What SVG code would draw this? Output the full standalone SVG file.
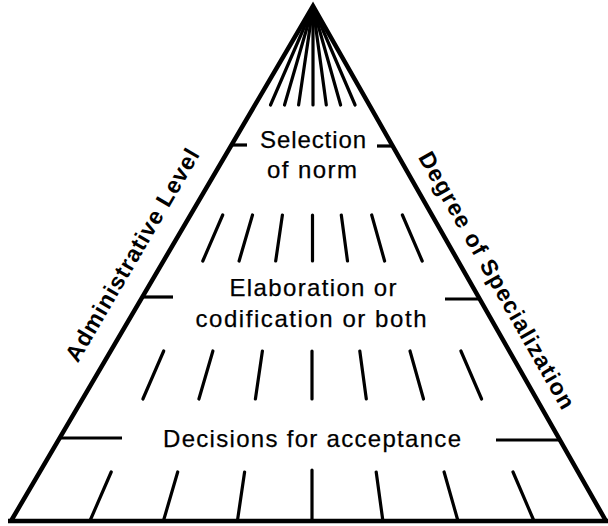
<svg xmlns="http://www.w3.org/2000/svg" width="608" height="526" viewBox="0 0 608 526">
<style>
.edge{stroke:#000;stroke-width:4.5;fill:none;stroke-linejoin:miter}
.tk{stroke:#000;stroke-width:3.2;stroke-linecap:round;fill:none}
.lv{stroke:#000;stroke-width:3.2;fill:none}
.t{font-family:"Liberation Sans",Arial,sans-serif;font-size:24px;fill:#000;stroke:#000;stroke-width:0.25;text-anchor:middle}
.lab{font-family:"Liberation Sans",Arial,sans-serif;font-size:23px;font-weight:bold;fill:#000;text-anchor:middle}
</style>
<rect width="608" height="526" fill="#fff"/>
<g id="pyramid">
<path class="edge" d="M11,521 L313,6 L606,521"/>
<line class="edge" x1="8" y1="521" x2="608" y2="521"/>
</g>
<g id="connectors">
<g id="band1">
<line class="tk" x1="313" y1="7" x2="270.5" y2="105"/>
<line class="tk" x1="313" y1="7" x2="284.5" y2="105"/>
<line class="tk" x1="313" y1="7" x2="298.6" y2="105"/>
<line class="tk" x1="313" y1="7" x2="313" y2="105"/>
<line class="tk" x1="313" y1="7" x2="326.3" y2="105"/>
<line class="tk" x1="313" y1="7" x2="340.6" y2="105"/>
<line class="tk" x1="313" y1="7" x2="355.1" y2="105"/>
</g>
<g id="band2">
<line class="tk" x1="222.7" y1="215" x2="202.8" y2="261"/>
<line class="tk" x1="252.5" y1="215" x2="239.1" y2="261"/>
<line class="tk" x1="282.4" y1="215" x2="275.7" y2="261"/>
<line class="tk" x1="312.5" y1="215" x2="312.5" y2="261"/>
<line class="tk" x1="341.3" y1="215" x2="347.5" y2="261"/>
<line class="tk" x1="371.7" y1="215" x2="384.6" y2="261"/>
<line class="tk" x1="402.4" y1="215" x2="422.2" y2="261"/>
</g>
<g id="band3">
<line class="tk" x1="163.7" y1="351" x2="142.9" y2="399"/>
<line class="tk" x1="212.9" y1="351" x2="198.9" y2="399"/>
<line class="tk" x1="262.4" y1="351" x2="255.4" y2="399"/>
<line class="tk" x1="312" y1="351" x2="312" y2="399"/>
<line class="tk" x1="359.8" y1="351" x2="366.3" y2="399"/>
<line class="tk" x1="410" y1="351" x2="423.5" y2="399"/>
<line class="tk" x1="460.9" y1="351" x2="481.6" y2="399"/>
</g>
<g id="band4">
<line class="tk" x1="111.2" y1="472" x2="89.9" y2="521"/>
<line class="tk" x1="177.7" y1="472" x2="163.4" y2="521"/>
<line class="tk" x1="244.6" y1="472" x2="237.4" y2="521"/>
<line class="tk" x1="312" y1="470" x2="312" y2="521"/>
<line class="tk" x1="376.2" y1="472" x2="382.9" y2="521"/>
<line class="tk" x1="444.1" y1="472" x2="458" y2="521"/>
<line class="tk" x1="513" y1="472" x2="534" y2="521"/>
</g>
<g id="levels">
<line class="lv" x1="232" y1="145" x2="247" y2="145"/>
<line class="lv" x1="377" y1="146" x2="392" y2="146"/>
<line class="lv" x1="143" y1="297" x2="173" y2="297"/>
<line class="lv" x1="445" y1="299" x2="480" y2="299"/>
<line class="lv" x1="60" y1="438" x2="122" y2="438"/>
<line class="lv" x1="496" y1="440" x2="560" y2="440"/>
</g>
</g>
<g id="selection">
<text class="t" x="313" y="148" textLength="106" lengthAdjust="spacing">Selection</text>
<text class="t" x="312" y="178" textLength="90" lengthAdjust="spacing">of norm</text>
</g>
<g id="elaboration">
<text class="t" x="313" y="296" textLength="167" lengthAdjust="spacing">Elaboration or</text>
<text class="t" x="311" y="327" textLength="231" lengthAdjust="spacing">codification or both</text>
</g>
<g id="decisions">
<text class="t" x="312" y="447" textLength="298" lengthAdjust="spacing">Decisions for acceptance</text>
</g>
<g id="admin-label">
<text class="lab" transform="translate(139,259) rotate(-59.63)" x="0" y="0" textLength="242" lengthAdjust="spacing">Administrative Level</text>
</g>
<g id="spec-label">
<text class="lab" transform="translate(490,284) rotate(60.32)" x="0" y="0" textLength="292" lengthAdjust="spacing">Degree of Specialization</text>
</g>
</svg>
